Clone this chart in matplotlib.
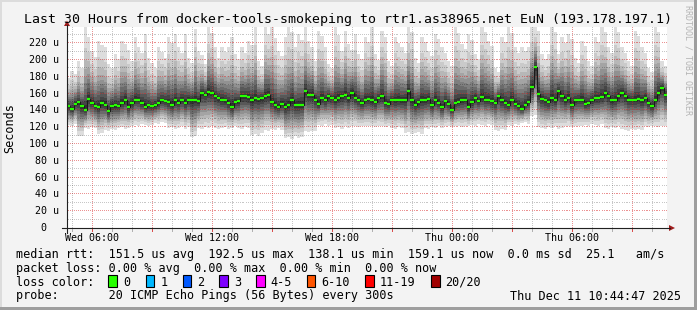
import numpy as np
import matplotlib
matplotlib.use('Agg')
import matplotlib.pyplot as plt
from matplotlib.patches import Rectangle, Polygon
from matplotlib.lines import Line2D
from matplotlib.transforms import blended_transform_factory

# ---------------- data ----------------
start_h = 4 + 44 / 60 + 47 / 3600          # Wed 04:44:47 (hours since Wed 00:00)
span_h = 30.0
step_h = 10 / 60                             # 10-minute samples

median = [145,142,148,150,145,141,154,149,145,144,
          149,147,139,145,146,145,149,153,144,149,
          153,153,149,144,146,145,146,149,152,151,
          150,147,152,149,153,149,153,152,153,151,
          161,159,162,161,157,155,153,152,149,144,
          150,151,157,157,156,153,155,154,155,157,
          159,150,146,144,148,144,146,152,146,146,
          147,163,159,159,153,148,155,152,157,155,
          152,155,157,159,155,161,155,153,149,153,
          154,152,150,155,157,149,148,153,152,153,
          152,153,163,152,147,150,153,152,154,146,
          153,149,144,151,148,141,149,150,152,153,
          144,150,155,151,156,153,153,151,149,157,
          152,149,146,153,148,145,142,147,150,168,
          192,160,154,152,150,155,152,163,157,152,
          155,147,152,153,153,148,149,153,155,155,
          156,161,157,152,153,157,161,157,153,153,
          153,154,152,155,149,145,153,161,167,159]

ping_max = [179,187,183,199,191,239,228,211,204,223,
            218,215,195,190,207,201,223,219,212,199,
            227,215,209,231,203,196,191,215,210,203,
            227,220,231,215,208,231,203,197,237,211,
            206,195,239,232,215,203,215,210,215,227,
            207,201,215,209,223,218,239,199,193,239,
            231,239,226,211,205,227,239,233,215,231,
            224,239,223,216,199,235,229,215,195,190,
            239,230,211,235,219,212,231,207,201,227,
            221,239,207,200,235,228,199,193,227,220,
            215,209,239,233,203,197,227,221,211,205,
            231,225,215,209,199,193,239,232,219,213,
            231,224,207,201,239,233,223,217,191,186,
            227,221,239,232,215,209,215,211,215,239,
            239,235,207,201,207,239,233,207,227,220,
            231,225,203,197,223,217,199,193,227,221,
            239,233,215,209,239,233,215,209,199,193,
            235,229,215,209,191,186,239,233,199,193]

ping_min = [123,122,124,109,110,119,118,120,119,112,
            113,117,116,118,117,119,120,118,119,121,
            123,122,124,123,121,123,125,124,126,125,
            119,120,118,119,121,118,120,108,109,119,
            118,120,119,121,119,118,119,120,118,119,
            121,119,118,120,119,111,112,110,113,117,
            116,118,117,119,117,107,108,106,109,107,
            108,115,114,116,115,123,122,124,121,123,
            119,120,118,121,119,121,122,120,121,122,
            121,121,120,122,121,120,121,119,118,120,
            119,113,114,112,113,114,112,119,118,120,
            119,121,119,121,122,120,121,122,120,121,
            121,123,122,124,123,122,124,123,117,116,
            118,117,123,122,124,123,125,126,124,133,
            134,120,119,118,120,119,121,118,119,121,
            122,120,121,122,121,123,122,124,123,122,
            124,119,118,120,119,121,118,117,116,118,
            117,118,117,121,120,122,121,120,122,121]

# relative position of ping ranks (outer -> inner) between median and extremes
rank_up = [1.0, 0.75, 0.6, 0.49, 0.4, 0.32, 0.25, 0.18, 0.11, 0.055]
rank_dn = [1.0, 0.85, 0.73, 0.63, 0.54, 0.45, 0.36, 0.27, 0.18, 0.09]
smoke_gray = [221, 202, 183, 164, 145, 126, 107, 88, 69, 50]

y_ticks = [0, 20, 40, 60, 80, 100, 120, 140, 160, 180, 200, 220]
x_tick_hours = [6, 12, 18, 24, 30]
x_tick_labels = ['Wed 06:00', 'Wed 12:00', 'Wed 18:00', 'Thu 00:00', 'Thu 06:00']

loss_labels = ['0', '1', '2', '3', '4-5', '6-10', '11-19', '20/20']
loss_colors = ['#26ff00', '#00b8ff', '#0059ff', '#7e00ff', '#ff00ff',
               '#ff5500', '#ff0000', '#a10000']

title = 'Last 30 Hours from docker-tools-smokeping to rtr1.as38965.net EuN (193.178.197.1)'
line_rtt = 'median rtt:  151.5 us avg  192.5 us max  138.1 us min  159.1 us now  0.0 ms sd  25.1   am/s'
line_loss = 'packet loss: 0.00 % avg  0.00 % max  0.00 % min  0.00 % now'
line_probe = 'probe:       20 ICMP Echo Pings (56 Bytes) every 300s'
stamp = 'Thu Dec 11 10:44:47 2025'

# ---------------- figure ----------------
W, H = 697, 310
MONO = 'DejaVu Sans Mono'
fig = plt.figure(figsize=(W / 100, H / 100), dpi=100)
fig.patch.set_facecolor('#f3f3f3')

def P(x, y):
    return (x / W, 1 - y / H)

X0, X1, Y0, YT = 67, 667, 228, 26.5
ax = fig.add_axes([X0 / W, 1 - Y0 / H, (X1 - X0) / W, (Y0 - YT) / H])
ax.set_facecolor('white')
for s in ax.spines.values():
    s.set_visible(False)
ax.set_xlim(start_h, start_h + span_h)
ax.set_ylim(0, 240)
ax.set_xticks([])
ax.set_yticks([])

med = np.array(median, float)
hi = np.array(ping_max, float)
lo = np.array(ping_min, float)
n = len(med)
edges = start_h + np.arange(n + 1) * step_h
ext = lambda a: np.append(a, a[-1])

for k in range(len(smoke_gray)):
    up = med + (hi - med) * rank_up[k]
    dn = med - (med - lo) * rank_dn[k]
    g = smoke_gray[k] / 255
    ax.fill_between(edges, ext(dn), ext(up), step='post', color=(g, g, g), lw=0, zorder=1 + k * 0.01)

# dotted grid (1 px on, 1 px off)
ppu = (Y0 - YT) / 240
pph = (X1 - X0) / span_h
minor_c = (0, 0, 0, 0.22)
major_c = (0.85, 0.15, 0.15, 0.5)
gx = start_h + (np.arange(0, X1 - X0, 2) + 0.5) / pph
gy = (np.arange(0, Y0 - YT, 2) + 0.5) / ppu
for v in range(10, 240, 10):
    ax.plot(gx, np.full_like(gx, v), ls='none', marker=',',
            color=major_c if v % 20 == 0 else minor_c, zorder=3)
for h in range(5, 35):
    ax.plot(np.full_like(gy, h), gy, ls='none', marker=',',
            color=major_c if h % 3 == 0 else minor_c, zorder=3)

# median
ax.step(edges, ext(med), where='post', color='#1a1a1a', lw=0.8, zorder=4)
ax.hlines(med, edges[:-1], edges[1:], color=loss_colors[0], lw=1.6, zorder=5)

# axis ticks under x axis
bt = blended_transform_factory(ax.transData, ax.transAxes)
for h in range(5, 35):
    ax.plot([h, h], [0, -3 / 201.5], transform=bt, clip_on=False,
            color=(0.85, 0.3, 0.3) if h % 3 == 0 else '#b0b0b0', lw=0.72, zorder=6)

# axes lines and arrows (figure pixel coords)
fig.add_artist(Line2D([62 / W, 670 / W], [1 - 228 / H, 1 - 228 / H], color='#202020', lw=0.8))
fig.add_artist(Line2D([67 / W, 67 / W], [1 - 233 / H, 1 - 25 / H], color='#202020', lw=0.8))
fig.add_artist(Polygon([P(669, 225), P(675, 228), P(669, 231)], closed=True, color='#a01c1c', lw=0))
fig.add_artist(Polygon([P(64, 26), P(70, 26), P(67, 20.5)], closed=True, color='#a01c1c', lw=0))

# tick labels
for v in y_ticks:
    y = Y0 - v * ppu
    if v == 0:
        fig.text(*P(46.5, y), '0', ha='right', va='center', family=MONO, fontsize=7.2)
    else:
        fig.text(*P(58.5, y), f'{v} u', ha='right', va='center', family=MONO, fontsize=7.2)
for h, lab in zip(x_tick_hours, x_tick_labels):
    x = X0 + (h - start_h) * pph
    fig.text(*P(x, 238), lab, ha='center', va='center', family=MONO, fontsize=7.2)

# titles
fig.text(*P(348.5, 19), title, ha='center', va='center', family=MONO, fontsize=9.5)
fig.text(*P(10, 128), 'Seconds', ha='center', va='center', rotation=90, family=MONO, fontsize=8.5)
fig.text(*P(688, 60), 'RRDTOOL / TOBI OETIKER', ha='center', va='center', rotation=-90,
         family=MONO, fontsize=6, color='#b4b4b4')

# legend
fig.text(*P(16, 254.3), line_rtt, ha='left', va='center', family=MONO, fontsize=8.5)
fig.text(*P(16, 268.3), line_loss, ha='left', va='center', family=MONO, fontsize=8.5)
fig.text(*P(16, 282.3), 'loss color:', ha='left', va='center', family=MONO, fontsize=8.5)
fig.text(*P(16, 296), line_probe, ha='left', va='center', family=MONO, fontsize=8.5)
fig.text(*P(681, 296), stamp, ha='right', va='center', family=MONO, fontsize=8.5)

box_x = [108.3, 145.7, 182.7, 219.3, 256, 306.7, 365, 431]
for bx, lab, c in zip(box_x, loss_labels, loss_colors):
    fig.add_artist(Rectangle(P(bx, 286.5), 8.5 / W, 11.5 / H, facecolor=c, edgecolor='black', lw=0.8))
    fig.text(*P(bx + 14.5, 282.3), lab, ha='left', va='center', family=MONO, fontsize=8.5)

# 3D frame
fig.add_artist(Rectangle((0, 1 - 2 / H), 1, 2 / H, facecolor='#dcdcdc', lw=0))
fig.add_artist(Rectangle((0, 0), 2 / W, 1, facecolor='#dcdcdc', lw=0))
fig.add_artist(Rectangle((1 - 3 / W, 0), 3 / W, 1, facecolor='#9e9e9e', lw=0))
fig.add_artist(Rectangle((0, 0), 1, 3 / H, facecolor='#9e9e9e', lw=0))

fig.savefig('out.png', dpi=100, facecolor=fig.get_facecolor())
